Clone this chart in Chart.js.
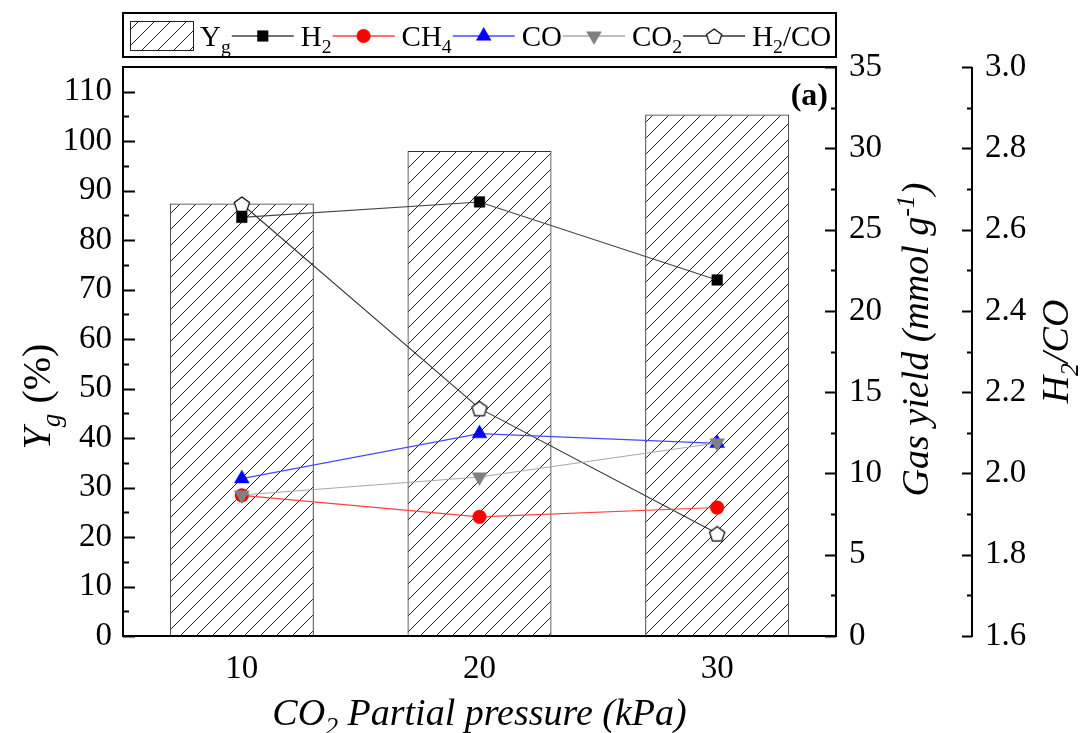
<!DOCTYPE html>
<html>
<head>
<meta charset="utf-8">
<script src="https://cdn.jsdelivr.net/npm/chart.js@4.4.1/dist/chart.umd.min.js"></script>
<style>
  html, body { margin: 0; padding: 0; background: #fff; }
  #wrap { width: 1083px; height: 733px; }
</style>
</head>
<body>
<div id="wrap"><canvas id="c"></canvas></div>
<script>
// values
const pressures = ['10', '20', '30'];
const yieldPct = [87.4, 98.0, 105.4];      // Yg (%) bars, left axis
const h2 = [25.75, 26.7, 21.9];            // gas yield, mmol/g
const ch4 = [8.65, 7.33, 7.9];
const co = [9.68, 12.45, 11.85];
const co2 = [8.67, 9.78, 11.87];
const h2co = [2.663, 2.16, 1.852];         // H2/CO ratio

const leftTicks = [0, 10, 20, 30, 40, 50, 60, 70, 80, 90, 100, 110];
const leftMinor = [5, 15, 25, 35, 45, 55, 65, 75, 85, 95, 105];
const gasTicks = [0, 5, 10, 15, 20, 25, 30, 35];
const gasMinor = [2.5, 7.5, 12.5, 17.5, 22.5, 27.5, 32.5];
const ratioTicks = [1.6, 1.8, 2.0, 2.2, 2.4, 2.6, 2.8, 3.0];
const ratioMinor = [1.7, 1.9, 2.1, 2.3, 2.5, 2.7, 2.9];

const SERIF = '"Liberation Serif", "Times New Roman", serif';

// hatch for the bars
function hatch() {
  const c = document.createElement('canvas');
  c.width = c.height = 16;
  const g = c.getContext('2d');
  g.strokeStyle = '#222';
  g.lineWidth = 1;
  g.beginPath();
  g.moveTo(0, 16); g.lineTo(16, 0);
  g.moveTo(-4, 4); g.lineTo(4, -4);
  g.moveTo(12, 20); g.lineTo(20, 12);
  g.stroke();
  return g.createPattern(c, 'repeat');
}

function pentagon(r) {
  const s = Math.ceil(r * 2 + 4);
  const c = document.createElement('canvas');
  c.width = c.height = s;
  const g = c.getContext('2d');
  g.beginPath();
  for (let i = 0; i < 5; i++) {
    const a = -Math.PI / 2 + i * 2 * Math.PI / 5;
    g.lineTo(s / 2 + r * Math.cos(a), s / 2 + 1 + r * Math.sin(a));
  }
  g.closePath();
  g.fillStyle = '#fff';
  g.fill();
  g.lineWidth = 1.2;
  g.strokeStyle = '#000';
  g.stroke();
  return c;
}

const pent = pentagon(8);
const hatchFill = hatch();

// text with sub/superscripts
function richWidth(ctx, parts, size) {
  let w = 0;
  parts.forEach(p => {
    const fs = p.sub || p.sup ? size * 0.68 : size;
    ctx.font = (p.it ? 'italic ' : '') + fs + 'px ' + SERIF;
    w += ctx.measureText(p.t).width;
  });
  return w;
}
function drawRich(ctx, parts, x, y, size, align) {
  let cx = align === 'center' ? x - richWidth(ctx, parts, size) / 2 : x;
  ctx.textAlign = 'left';
  ctx.textBaseline = 'alphabetic';
  ctx.fillStyle = '#000';
  parts.forEach(p => {
    const fs = p.sub || p.sup ? size * 0.68 : size;
    ctx.font = (p.it ? 'italic ' : '') + fs + 'px ' + SERIF;
    const dy = p.sub ? size * 0.25 : p.sup ? -size * 0.38 : 0;
    ctx.fillText(p.t, cx, y + dy);
    cx += ctx.measureText(p.t).width;
  });
  return cx;
}

const series = [
  { key: 'H2', label: [{ t: 'H' }, { t: '2', sub: true }], data: h2, color: '#000', line: '#444',
    style: 'rect', radius: 7.5, rot: 0, axis: 'yG', order: 2 },
  { key: 'CH4', label: [{ t: 'CH' }, { t: '4', sub: true }], data: ch4, color: '#ff0000', line: '#ff4040',
    style: 'circle', radius: 6.8, rot: 0, axis: 'yG', order: 5 },
  { key: 'CO', label: [{ t: 'CO' }], data: co, color: '#0000ff', line: '#4848ff',
    style: 'triangle', radius: 8.5, rot: 0, axis: 'yG', order: 4 },
  { key: 'CO2', label: [{ t: 'CO' }, { t: '2', sub: true }], data: co2, color: '#808080', line: '#a8a8a8',
    style: 'triangle', radius: 8.5, rot: 180, axis: 'yG', order: 3 },
  { key: 'H2/CO', label: [{ t: 'H' }, { t: '2', sub: true }, { t: '/CO' }], data: h2co, color: '#fff', line: '#333',
    style: pent, radius: 8, rot: 0, axis: 'yR', order: 6 }
];

const datasets = [{
  type: 'bar',
  label: 'Yg',
  data: yieldPct,
  yAxisID: 'yL',
  backgroundColor: hatchFill,
  borderColor: '#333',
  borderWidth: 1,
  categoryPercentage: 1,
  barPercentage: 0.606,
  order: 10
}].concat(series.map(s => ({
  type: 'line',
  label: s.key,
  data: s.data,
  yAxisID: s.axis,
  borderColor: s.line,
  borderWidth: 1.1,
  backgroundColor: s.color,
  pointBackgroundColor: s.color,
  pointBorderColor: s.style === pent ? '#000' : s.color,
  pointBorderWidth: 0.5,
  pointStyle: s.style,
  pointRotation: s.rot,
  pointRadius: s.radius,
  pointHoverRadius: s.radius,
  tension: 0,
  order: s.order
})));

function drawTicks(ctx, scale, values, x, len) {
  values.forEach(v => {
    const y = Math.round(scale.getPixelForValue(v)) + 0.5;
    ctx.beginPath();
    ctx.moveTo(x, y);
    ctx.lineTo(x + len, y);
    ctx.stroke();
  });
}

const decor = {
  id: 'decor',
  afterDraw(chart) {
    const ctx = chart.ctx;
    const a = chart.chartArea;
    const yL = chart.scales.yL, yG = chart.scales.yG, yR = chart.scales.yR;
    ctx.save();
    ctx.strokeStyle = '#000';

    // frame
    ctx.lineWidth = 2;
    ctx.strokeRect(a.left, a.top, a.right - a.left, a.bottom - a.top);

    // third axis line
    const rx = yR.left;
    ctx.beginPath();
    ctx.moveTo(rx, a.top);
    ctx.lineTo(rx, a.bottom + 1);
    ctx.stroke();

    // tick marks
    ctx.lineWidth = 2;
    drawTicks(ctx, yL, leftTicks, a.left, 12);
    drawTicks(ctx, yL, leftMinor, a.left, 6);
    drawTicks(ctx, yG, gasTicks, a.right, -11);
    drawTicks(ctx, yG, gasMinor, a.right, -5);
    drawTicks(ctx, yR, ratioTicks, rx, -10);
    drawTicks(ctx, yR, ratioMinor, rx, -5);

    // axis titles
    const T = 38;
    ctx.save();
    ctx.translate(50, (a.top + a.bottom) / 2 + 45);
    ctx.rotate(-Math.PI / 2);
    drawRich(ctx, [{ t: 'Y', it: true }, { t: 'g', it: true, sub: true }, { t: ' (%)' }], 0, 0, 40, 'center');
    ctx.restore();

    ctx.save();
    ctx.translate(928, (a.top + a.bottom) / 2 - 12);
    ctx.rotate(-Math.PI / 2);
    drawRich(ctx, [{ t: 'Gas yield (mmol g', it: true }, { t: '-1', it: true, sup: true }, { t: ')', it: true }], 0, 0, T, 'center');
    ctx.restore();

    ctx.save();
    ctx.translate(1068, (a.top + a.bottom) / 2);
    ctx.rotate(-Math.PI / 2);
    drawRich(ctx, [{ t: 'H', it: true }, { t: '2', it: true, sub: true }, { t: '/CO', it: true }], 0, 0, T, 'center');
    ctx.restore();

    drawRich(ctx, [{ t: 'CO', it: true }, { t: '2', it: true, sub: true }, { t: ' Partial pressure (kPa)', it: true }],
      (a.left + a.right) / 2, 725, T, 'center');

    // panel tag
    ctx.font = 'bold 32px ' + SERIF;
    ctx.textAlign = 'right';
    ctx.textBaseline = 'alphabetic';
    ctx.fillText('(a)', a.right - 8, 105);

    // legend
    const top = 13, bot = 57, cy = 36, LS = 29;
    ctx.lineWidth = 2;
    ctx.strokeRect(a.left, top, a.right - a.left, bot - top);
    let x = 130;
    ctx.fillStyle = hatchFill;
    ctx.fillRect(x, 21, 63, 29);
    ctx.lineWidth = 1;
    ctx.strokeStyle = '#222';
    ctx.strokeRect(x + 0.5, 21.5, 63, 29);
    x += 70;
    x = drawRich(ctx, [{ t: 'Y' }, { t: 'g', sub: true }], x, cy + 10, LS, 'left') + 1;
    series.forEach(s => {
      ctx.strokeStyle = s.line;
      ctx.lineWidth = 1.3;
      ctx.beginPath();
      ctx.moveTo(x, cy);
      ctx.lineTo(x + 62, cy);
      ctx.stroke();
      ctx.fillStyle = s.color;
      ctx.strokeStyle = s.style === pent ? '#000' : s.color;
      ctx.lineWidth = 0.5;
      Chart.helpers.drawPoint(ctx, { pointStyle: s.style, rotation: s.rot, radius: s.radius, borderWidth: 0.5 }, x + 31, cy);
      x += 69;
      x = drawRich(ctx, s.label, x, cy + 10, LS, 'left') + 1;
    });
    ctx.restore();
  }
};

const tickFont = { family: SERIF, size: 33 };
function fixed(list) {
  return s => { s.ticks = list.map(v => ({ value: v })); };
}

new Chart(document.getElementById('c'), {
  data: { labels: pressures, datasets: datasets },
  options: {
    responsive: true,
    maintainAspectRatio: false,
    animation: false,
    layout: { padding: { top: 67, left: 0, right: 0, bottom: 0 } },
    plugins: { legend: { display: false }, tooltip: { enabled: false } },
    scales: {
      x: {
        type: 'category',
        offset: true,
        grid: { display: false, drawTicks: false },
        border: { display: false },
        ticks: { font: tickFont, color: '#000', padding: 14 },
        afterFit: s => { s.height = 97; }
      },
      yL: {
        position: 'left',
        min: 0, max: 115,
        afterBuildTicks: fixed(leftTicks),
        grid: { display: false, drawTicks: false },
        border: { display: false },
        ticks: { font: tickFont, color: '#000', padding: 11 },
        afterFit: s => { s.width = 123; }
      },
      yG: {
        position: 'right',
        weight: 0,
        min: 0, max: 35,
        afterBuildTicks: fixed(gasTicks),
        grid: { display: false, drawTicks: false },
        border: { display: false },
        ticks: { font: tickFont, color: '#000', padding: 13 },
        afterFit: s => { s.width = 136; }
      },
      yR: {
        position: 'right',
        weight: 1,
        min: 1.6, max: 3.0,
        afterBuildTicks: fixed(ratioTicks),
        grid: { display: false, drawTicks: false },
        border: { display: false },
        ticks: { font: tickFont, color: '#000', padding: 13, callback: v => Number(v).toFixed(1) },
        afterFit: s => { s.width = 111; }
      }
    }
  },
  plugins: [decor]
});
</script>
</body>
</html>
